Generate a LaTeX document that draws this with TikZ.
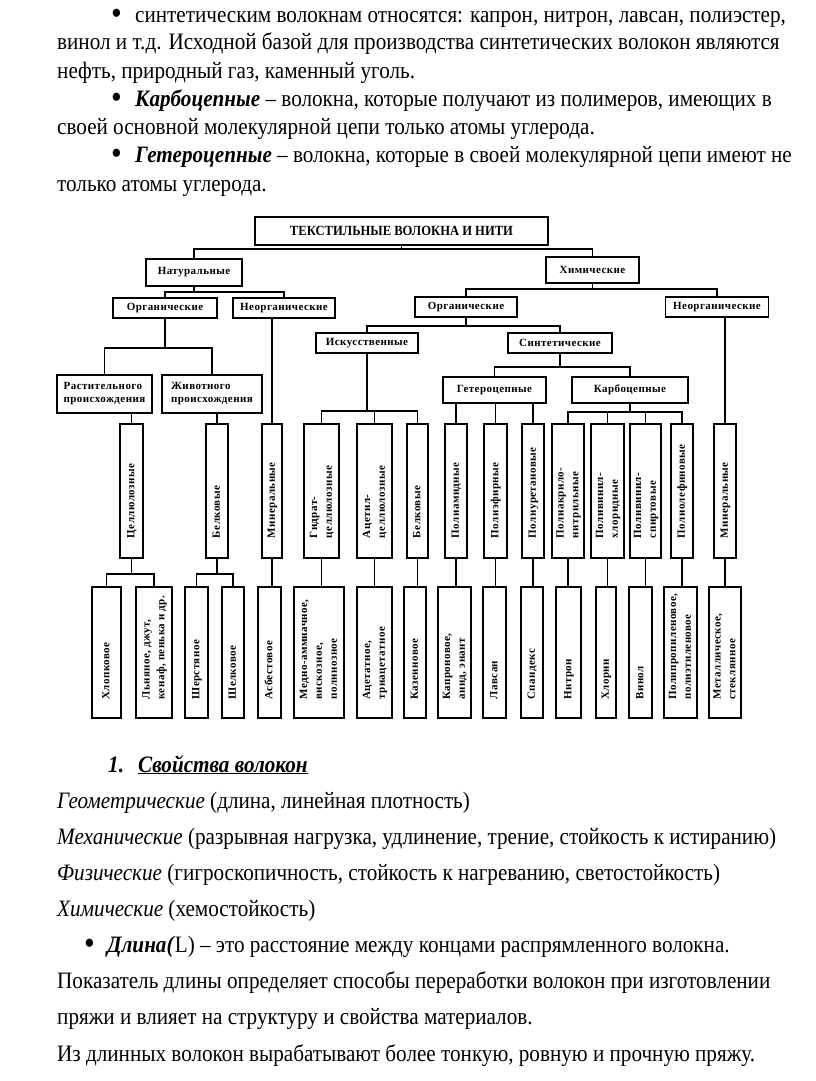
\documentclass[tikz,border=0pt]{standalone}
\usepackage{graphicx}
\usepackage{fontspec}
\setmainfont{Liberation Serif}[FakeStretch=0.9]
\newfontfamily\diagfont[LetterSpace=4]{Liberation Serif}
\newcommand{\vlab}[1]{\rotatebox{90}{\makebox[94pt][l]{\def\arraystretch{1.15}\begin{tabular}{@{}l@{}}#1\end{tabular}}}}
\begin{document}
\begin{tikzpicture}[x=1pt,y=-1pt,
	box/.style={draw, line width=1.8pt, inner sep=0pt, font=\diagfont\bfseries\fontsize{11}{13}\selectfont},
	mid/.style={box, minimum height=134pt},
	low/.style={box, minimum height=131pt},
	link/.style={line width=1.8pt},
	txt/.style={anchor=base west, inner sep=0pt, font=\fontsize{23.5}{28}\selectfont},
	dot/.style={anchor=base west, inner sep=0pt, font=\fontsize{34}{28}\selectfont}]
		\useasboundingbox[fill=white] (0,0) rectangle (816,1081);
		
		\node[dot] (b1) at (111,25) {•};
		\node[txt] (t1) at (135,23) {синтетическим волокнам относятся: капрон, нитрон, лавсан, полиэстер,};
		\node[txt] (t2) at (57,50) {винол и т.д. Исходной базой для производства синтетических волокон являются};
		\node[txt] (t3) at (57,78) {нефть, природный газ, каменный уголь.};
		\node[dot] (b2) at (111,108) {•};
		\node[txt] (t4) at (135,106) {\textbf{\textit{Карбоцепные}} – волокна, которые получают из полимеров, имеющих в};
		\node[txt] (t5) at (57,134) {своей основной молекулярной цепи только атомы углерода.};
		\node[dot] (b3) at (111,164) {•};
		\node[txt] (t6) at (135,162) {\textbf{\textit{Гетероцепные}} – волокна, которые в своей молекулярной цепи имеют не};
		\node[txt] (t7) at (57,191) {только атомы углерода.};
		
		\node[box, minimum width=293pt, minimum height=28pt, font=\bfseries\fontsize{14}{16}\selectfont] (title) at (401.5,231) {ТЕКСТИЛЬНЫЕ ВОЛОКНА И НИТИ};
		\node[box, minimum width=96pt, minimum height=27pt] (nat) at (194,272.5) {Натуральные};
		\node[box, minimum width=93pt, minimum height=26pt] (chem) at (592.5,270) {Химические};
		\node[box, minimum width=104pt, minimum height=20pt] (orgL) at (165,308) {Органические};
		\node[box, minimum width=102pt, minimum height=20pt] (neorgL) at (284,308) {Неорганические};
		\node[box, minimum width=102pt, minimum height=20pt] (orgR) at (466,307) {Органические};
		\node[box, minimum width=103pt, minimum height=20pt] (neorgR) at (717,307) {Неорганические};
		\node[box, minimum width=95pt, minimum height=38pt, align=left] (rast) at (104.5,394) {Растительного\\происхождения};
		\node[box, minimum width=100pt, minimum height=38pt, align=left] (zhiv) at (212,394) {Животного\\происхождения};
		\node[box, minimum width=102pt, minimum height=20pt] (isk) at (367,343) {Искусственные};
		\node[box, minimum width=104pt, minimum height=20pt] (sint) at (560,343) {Синтетические};
		\node[box, minimum width=103pt, minimum height=26pt] (get) at (494.5,390) {Гетероцепные};
		\node[box, minimum width=116pt, minimum height=26pt] (karb) at (630,390) {Карбоцепные};
		
		\node[mid, minimum width=23pt] (cell) at (131.5,491) {\vlab{Целлюлозные}};
		\node[mid, minimum width=22pt] (belkN) at (217,491) {\vlab{Белковые}};
		\node[mid, minimum width=20pt] (minN) at (272,491) {\vlab{Минеральные}};
		\node[mid, minimum width=35pt] (gidr) at (321.5,491) {\vlab{Гидрат-\\целлюлозные}};
		\node[mid, minimum width=35pt] (acet) at (374.5,491) {\vlab{Ацетил-\\целлюлозные}};
		\node[mid, minimum width=21pt] (belkA) at (417.5,491) {\vlab{Белковые}};
		\node[mid, minimum width=22pt] (pam) at (456,491) {\vlab{Полиамидные}};
		\node[mid, minimum width=23pt] (pef) at (495.5,491) {\vlab{Полиэфирные}};
		\node[mid, minimum width=22pt] (pur) at (533,491) {\vlab{Полиуретановые}};
		\node[mid, minimum width=32pt] (pan) at (568,491) {\vlab{Полиакрило-\\нитрильные}};
		\node[mid, minimum width=33pt] (pvh) at (607.5,491) {\vlab{Поливинил-\\хлоридные}};
		\node[mid, minimum width=31pt] (pvs) at (645.5,491) {\vlab{Поливинил-\\спиртовые}};
		\node[mid, minimum width=22pt] (pol) at (682,491) {\vlab{Полиолефиновые}};
		\node[mid, minimum width=22pt] (minC) at (725,491) {\vlab{Минеральные}};
		
		\node[low, minimum width=29pt] (hlop) at (106.5,652.5) {\vlab{Хлопковое}};
		\node[low, minimum width=36pt] (lnya) at (154,652.5) {\vlab{Льняное, джут,\\кенаф, пенька и др.}};
		\node[low, minimum width=23pt] (sher) at (196.5,652.5) {\vlab{Шерстяное}};
		\node[low, minimum width=22pt] (shel) at (233,652.5) {\vlab{Шелковое}};
		\node[low, minimum width=23pt] (asb) at (269.5,652.5) {\vlab{Асбестовое}};
		\node[low, minimum width=50pt] (medn) at (319,652.5) {\vlab{Медно-аммиачное,\\вискозное,\\полинозное}};
		\node[low, minimum width=35pt] (acett) at (374.5,652.5) {\vlab{Ацетатное,\\триацетатное}};
		\node[low, minimum width=22pt] (kaz) at (415,652.5) {\vlab{Казеиновое}};
		\node[low, minimum width=33pt] (kapr) at (454.5,652.5) {\vlab{Капроновое,\\анид, энант}};
		\node[low, minimum width=23pt] (lavs) at (494.5,652.5) {\vlab{Лавсан}};
		\node[low, minimum width=22pt] (span) at (532,652.5) {\vlab{Спандекс}};
		\node[low, minimum width=25pt] (nitr) at (568.5,652.5) {\vlab{Нитрон}};
		\node[low, minimum width=20pt] (hlor) at (606,652.5) {\vlab{Хлорин}};
		\node[low, minimum width=23pt] (vin) at (640.5,652.5) {\vlab{Винол}};
		\node[low, minimum width=33pt] (ppe) at (680.5,652.5) {\vlab{Полипропиленовое,\\полиэтиленовое}};
		\node[low, minimum width=32pt] (met) at (725,652.5) {\vlab{Металлическое,\\стеклянное}};
		
		\coordinate (r0) at (0,249);
		\coordinate (r1) at (0,292);
		\coordinate (r2) at (0,289);
		\coordinate (r3) at (0,348);
		\coordinate (r4) at (0,326);
		\coordinate (r5) at (0,411);
		\coordinate (r6) at (0,367);
		\coordinate (r7) at (0,412);
		\coordinate (r8) at (0,574);
		
		\draw[link] (title.south) -- (title.south |- r0);
		\draw[link] (nat.north) |- (chem.north |- r0) -- (chem.north);
		\draw[link] (nat.south) -- (nat.south |- r1);
		\draw[link] (orgL.north) |- (neorgL.north |- r1) -- (neorgL.north);
		\draw[link] (chem.south) -- (chem.south |- r2);
		\draw[link] (orgR.north) |- (neorgR.north |- r2) -- (neorgR.north);
		\draw[link] (orgL.south) -- (orgL.south |- r3);
		\draw[link] (rast.north) |- (zhiv.north |- r3) -- (zhiv.north);
		\draw[link] (cell.north) -- (cell.north |- rast.south);
		\draw[link] (belkN.north) -- (belkN.north |- zhiv.south);
		\draw[link] (minN.north) -- (minN.north |- neorgL.south);
		\draw[link] (orgR.south) -- (orgR.south |- r4);
		\draw[link] (isk.north) |- (sint.north |- r4) -- (sint.north);
		\draw[link] (isk.south) -- (isk.south |- r5);
		\draw[link] (gidr.north) |- (belkA.north |- r5) -- (belkA.north);
		\draw[link] (acet.north) -- (acet.north |- r5);
		\draw[link] (sint.south) -- (sint.south |- r6);
		\draw[link] (get.north) |- (karb.north |- r6) -- (karb.north);
		\draw[link] (pam.north) -- (pam.north |- get.south);
		\draw[link] (pef.north) -- (pef.north |- get.south);
		\draw[link] (pur.north) -- (pur.north |- get.south);
		\draw[link] (karb.south) -- (karb.south |- r7);
		\draw[link] (pan.north) |- (pol.north |- r7) -- (pol.north);
		\draw[link] (pvh.north) -- (pvh.north |- r7);
		\draw[link] (pvs.north) -- (pvs.north |- r7);
		\draw[link] (minC.north) -- (minC.north |- neorgR.south);
		
		\draw[link] (cell.south) -- (cell.south |- r8);
		\draw[link] (hlop.north) |- (lnya.north |- r8) -- (lnya.north);
		\draw[link] (belkN.south) -- (belkN.south |- r8);
		\draw[link] (sher.north) |- (shel.north |- r8) -- (shel.north);
		\draw[link] (minN.south) -- (minN.south |- asb.north);
		\draw[link] (gidr.south) -- (gidr.south |- medn.north);
		\draw[link] (acet.south) -- (acet.south |- acett.north);
		\draw[link] (belkA.south) -- (belkA.south |- kaz.north);
		\draw[link] (pam.south) -- (pam.south |- kapr.north);
		\draw[link] (pef.south) -- (pef.south |- lavs.north);
		\draw[link] (pur.south) -- (pur.south |- span.north);
		\draw[link] (pan.south) -- (pan.south |- nitr.north);
		\draw[link] (pvh.south) -- (pvh.south |- hlor.north);
		\draw[link] (pvs.south) -- (pvs.south |- vin.north);
		\draw[link] (pol.south) -- (pol.south |- ppe.north);
		\draw[link] (minC.south) -- (minC.south |- met.north);
		
		\node[txt] (h1) at (108,772) {\textbf{\textit{1.}}};
		\node[txt] (h2) at (138,772) {\textbf{\textit{\underline{Свойства волокон}}}};
		\node[txt] (p1) at (57,808) {\textit{Геометрические} (длина, линейная плотность)};
		\node[txt] (p2) at (57,844) {\textit{Механические} (разрывная нагрузка, удлинение, трение, стойкость к истиранию)};
		\node[txt] (p3) at (57,880) {\textit{Физические} (гигроскопичность, стойкость к нагреванию, светостойкость)};
		\node[txt] (p4) at (57,916) {\textit{Химические} (хемостойкость)};
		\node[dot] (b4) at (84,954) {•};
		\node[txt] (p5) at (107,952) {\textbf{\textit{Длина(}}L) – это расстояние между концами распрямленного волокна.};
		\node[txt] (p6) at (57,988) {Показатель длины определяет способы переработки волокон при изготовлении};
		\node[txt] (p7) at (57,1024) {пряжи и влияет на структуру и свойства материалов.};
		\node[txt] (p8) at (57,1061) {Из длинных волокон вырабатывают более тонкую, ровную и прочную пряжу.};
	\end{tikzpicture}
\end{document}
